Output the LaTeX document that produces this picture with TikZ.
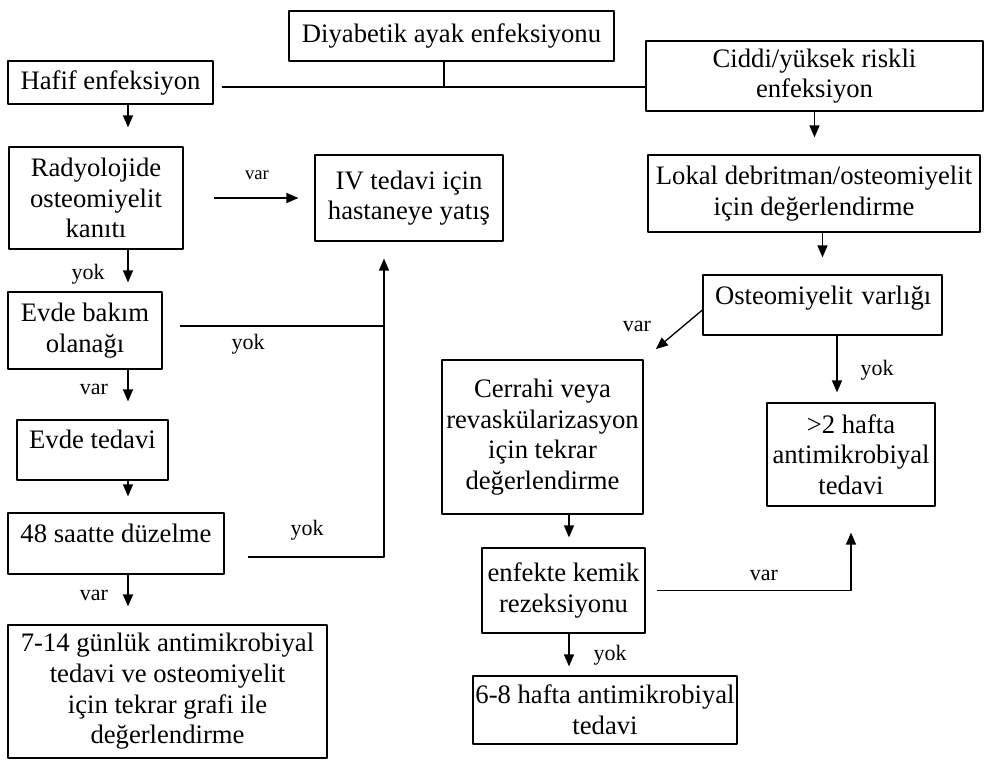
\documentclass[tikz,border=0pt]{standalone}
\usepackage{fontspec}
\setmainfont{Liberation Serif}
\usetikzlibrary{arrows.meta,calc}
\begin{document}
\begin{tikzpicture}[x=0.75pt,y=-0.75pt,line join=round,
	box/.style 2 args={draw,line width=0.9pt,align=center,inner sep=0pt,minimum width=#1*0.75pt,minimum height=#2*0.75pt,font=\fontsize{20}{23}\selectfont},
	lbl/.style={inner sep=0pt,font=\fontsize{16.5}{18}\selectfont},
	ln/.style={line width=1pt},
	arr/.style={ln,-{Triangle[length=9pt,width=7.5pt]}},
	tipgap/.style={shorten >=#1*0.75pt},
	tailgap/.style={shorten <=#1*0.75pt},
	lift/.style={text height=15pt,text depth=#1}]
	\useasboundingbox (0,0) rectangle (984,766);
	\node[box={325}{50}] (diab) at (451.5,36) {Diyabetik ayak enfeksiyonu};
	\node[box={205}{43}] (hafif) at (110.5,82.5) {Hafif enfeksiyon};
	\node[box={337}{70}] (ciddi) at (814.5,76) {Ciddi/yüksek riskli\\enfeksiyon};
	\node[box={174}{102}] (radyo) at (96,198) {Radyolojide\\osteomiyelit\\kanıtı};
	\node[box={188}{86}] (iv) at (409,198) {IV tedavi için\\hastaneye yatış};
	\node[box={332}{77}] (lokal) at (814,193.5) {Lokal debritman/osteomiyelit\\için değerlendirme};
	\node[box={239}{60},align=left,text width=161.25pt,inner xsep=9pt,lift=15pt] (osteo) at (822.5,305) {\mbox{Osteomiyelit varlığı}};
	\node[box={154}{77}] (evbak) at (85,330.5) {Evde bakım\\olanağı};
	\node[box={151}{60},lift=18pt] (evted) at (92.5,450) {Evde tedavi};
	\node[box={216}{61},lift=17pt] (saat) at (116,543.5) {48 saatte düzelme};
	\node[box={319}{133}] (gun) at (167.5,691.5) {7-14 günlük antimikrobiyal\\tedavi ve osteomiyelit\\için tekrar grafi ile\\değerlendirme};
	\node[box={201}{154}] (cerr) at (542.5,437) {Cerrahi veya\\revaskülarizasyon\\için tekrar\\değerlendirme};
	\node[box={168}{103}] (hafta) at (851,454.5) {>2 hafta\\antimikrobiyal\\tedavi};
	\node[box={163}{85}] (enf) at (563.5,590.5) {enfekte kemik\\rezeksiyonu};
	\node[box={264}{68}] (alti) at (605,710) {6-8 hafta antimikrobiyal\\tedavi};

	\coordinate (lc) at (128,0);
	\coordinate (bus) at (444,87);
	\coordinate (riser) at (384,0);
	\coordinate (oc) at (837,0);
	\coordinate (mc) at (569,0);

	\draw[ln] (diab.south -| bus) -- (bus);
	\draw[ln] ($(hafif.east)+(8,4.5)$) -- (ciddi.west |- bus);
	\draw[arr,tipgap=19] (hafif.south -| lc) -- (radyo.north -| lc);
	\draw[arr,tailgap=30,tipgap=16] (radyo.east) -- (iv.west);
	\draw[arr,tipgap=9] (radyo.south -| lc) -- (evbak.north -| lc);
	\draw[ln] ($(evbak.east)+(17,-4.5)$) -- ($(evbak.east -| riser)+(0,-4.5)$);
	\draw[arr,tipgap=18] (evbak.south -| lc) -- (evted.north -| lc);
	\draw[arr,tipgap=16] (evted.south -| lc) -- (saat.north -| lc);
	\draw[arr,tipgap=17] ($(saat.east)+(23,13.5)$) -| (iv.south -| riser);
	\draw[arr,tipgap=18] (saat.south -| lc) -- (gun.north -| lc);
	\draw[arr,tipgap=17] (ciddi.south) -- (ciddi.south |- lokal.north);
	\draw[arr,tipgap=17] (lokal.south -| osteo) -- (osteo.north);
	\draw[arr,tipgap=16] ($(osteo.west)+(0,5)$) -- (cerr.north east);
	\draw[arr,tipgap=10] (osteo.south -| oc) -- (hafta.north -| oc);
	\draw[arr,tipgap=10] (cerr.south -| mc) -- (enf.north -| mc);
	\draw[arr,tailgap=11,tipgap=26] (enf.east) -| (hafta.south);
	\draw[arr,tipgap=9] (enf.south -| mc) -- (alti.north -| mc);

	\node[lbl,font=\fontsize{14}{16}\selectfont] (v1) at (257,175) {var};
	\node[lbl] (y1) at (88,274) {yok};
	\node[lbl] (y2) at (248,344) {yok};
	\node[lbl] (v2) at (94,389) {var};
	\node[lbl] (y3) at (307,530) {yok};
	\node[lbl] (v3) at (94,595) {var};
	\node[lbl] (v4) at (637,326) {var};
	\node[lbl] (y4) at (877,370) {yok};
	\node[lbl] (v5) at (764,575) {var};
	\node[lbl] (y5) at (610,655) {yok};
\end{tikzpicture}
\end{document}
